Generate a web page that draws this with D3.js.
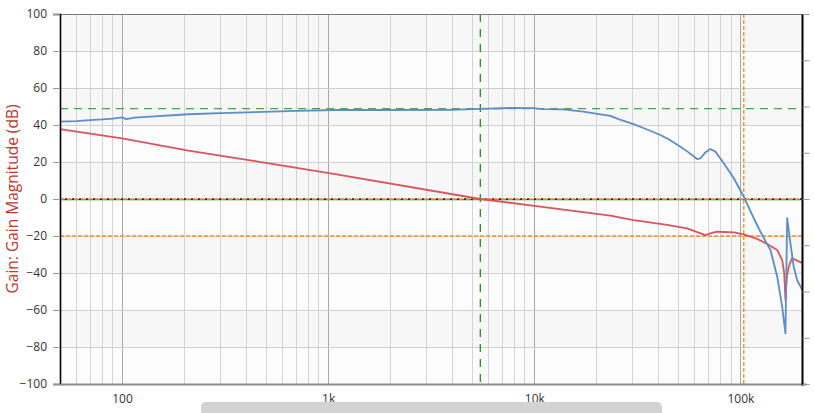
<!DOCTYPE html>
<html><head><meta charset="utf-8">
<script src="https://cdn.jsdelivr.net/npm/d3@7"></script>
<style>
html,body{margin:0;padding:0;background:#fff;}
svg{display:block;font-family:"Open Sans","Segoe UI",Arial,sans-serif;}
</style></head><body>
<svg id="chart" width="814" height="413"></svg>
<script>
// ---- data ----
const blueFreq = [50,60,70,80,90,100,105,115,150,210,300,442,700,1081,2000,4000,5000,7640,9880,11000,13800,17300,20900,23400,26000,30300,35000,40900,45000,51200,56000,61600,64000,67600,71500,75600,83000,92900,103800,116000,125000,134900,139900,150800,159400,165300,168500,174800,181300,188300,197600,200000];
const blueGain = [41.8,42.1,42.6,43.0,43.5,44.1,43.2,44.0,44.8,45.8,46.4,47.0,47.6,48.1,48.1,48.2,48.6,49.2,49.1,48.6,48.5,47.2,45.8,44.9,42.9,40.5,37.7,34.6,32.2,28.3,25.2,21.6,22.0,25.2,27.0,25.6,19.3,11.2,1.2,-10.4,-17.7,-24.5,-27.6,-42,-58.2,-72.6,-10.4,-24,-36.6,-43.8,-48.3,-49];
const redFreq = [50,100,210,442,1081,5470,10000,23400,30300,44100,55100,67600,72000,77100,92900,103800,120600,134900,150800,159400,163000,165300,168000,171500,178100,197600,200000];
const redGain = [37.8,32.8,26.1,20.5,13.5,0,-3.7,-9.0,-11.4,-14,-15.9,-19.5,-18.5,-17.7,-18,-19.1,-21.6,-24.3,-27.6,-33,-40,-54.6,-42,-36.6,-32,-34.4,-34.6];
const yTicks = [-100,-80,-60,-40,-20,0,20,40,60,80,100];
const xTickValues = [100,1000,10000,100000];
const xTickLabels = ["100","1k","10k","100k"];
const rightTicks = [-180,-135,-90,-45,0,45,90,135,180];
const greenGain = 48.8, greenFreq = 5470, orangeGain = -20, orangeFreq = 103800, zeroGain = 0;
const yTitle = "Gain: Gain Magnitude (dB)";

// ---- layout ----
const L = 60, R = 802.5, T = 14, B = 384;
const svg = d3.select("#chart");
const x = d3.scaleLog().domain([50, 200000]).range([L, R]);
const y = d3.scaleLinear().domain([-100, 100]).range([B, T]);
const yR = d3.scaleLinear().domain([-180, 180]).range([B, T]);

// background bands
const bands = d3.range(-100, 100, 20);
svg.append("g").selectAll("rect").data(bands).join("rect")
  .attr("x", L).attr("width", R - L)
  .attr("y", d => y(d + 20)).attr("height", d => y(d) - y(d + 20))
  .attr("fill", (d, i) => (i % 2 === 0) ? "#fcfcfc" : "#f7f7f7");

// vertical grid
const minor = [];
for (let e = 1; e <= 5; e++) for (let m = 2; m <= 9; m++) { const v = m * Math.pow(10, e); if (v > 50 && v < 200000) minor.push(v); }
svg.append("g").selectAll("line").data(minor).join("line")
  .attr("x1", d => x(d)).attr("x2", d => x(d)).attr("y1", T).attr("y2", B)
  .attr("stroke", "#d4d4d4").attr("stroke-width", 1).attr("shape-rendering", "crispEdges");
svg.append("g").selectAll("line").data(xTickValues).join("line")
  .attr("x1", d => x(d)).attr("x2", d => x(d)).attr("y1", T).attr("y2", B)
  .attr("stroke", "#a9a9a9").attr("stroke-width", 1).attr("shape-rendering", "crispEdges");
// horizontal grid
svg.append("g").selectAll("line").data(yTicks.filter(d => d > -100 && d < 100)).join("line")
  .attr("x1", L).attr("x2", R).attr("y1", d => y(d)).attr("y2", d => y(d))
  .attr("stroke", "#d0d0d0").attr("stroke-width", 1).attr("shape-rendering", "crispEdges");

// reference lines
const ref = svg.append("g");
ref.append("line").attr("x1", L).attr("x2", R).attr("y1", y(greenGain)).attr("y2", y(greenGain))
  .attr("stroke", "#4ea24e").attr("stroke-width", 1.3).attr("stroke-dasharray", "8,6");
ref.append("line").attr("x1", L).attr("x2", R).attr("y1", y(zeroGain) + 0.6).attr("y2", y(zeroGain) + 0.6)
  .attr("stroke", "#2a9a2a").attr("stroke-width", 1.4);
ref.append("line").attr("x1", L).attr("x2", R).attr("y1", y(zeroGain)).attr("y2", y(zeroGain))
  .attr("stroke", "#222").attr("stroke-width", 1.3).attr("stroke-dasharray", "2,5").attr("stroke-dashoffset", 2);
ref.append("line").attr("x1", L).attr("x2", R).attr("y1", y(zeroGain)).attr("y2", y(zeroGain))
  .attr("stroke", "#ff8c1a").attr("stroke-width", 1.6).attr("stroke-dasharray", "4,3");
ref.append("line").attr("x1", L).attr("x2", R).attr("y1", y(orangeGain)).attr("y2", y(orangeGain))
  .attr("stroke", "#ff8c1a").attr("stroke-width", 1.3).attr("stroke-dasharray", "4,2");
ref.append("line").attr("x1", x(orangeFreq)).attr("x2", x(orangeFreq)).attr("y1", T).attr("y2", B)
  .attr("stroke", "#f08a22").attr("stroke-width", 1.3).attr("stroke-dasharray", "4,2");
ref.append("line").attr("x1", x(greenFreq)).attr("x2", x(greenFreq)).attr("y1", T).attr("y2", B)
  .attr("stroke", "#1f8f1f").attr("stroke-width", 1.3).attr("stroke-dasharray", "8,7");

// curves
const line = d3.line().x(d => x(d[0])).y(d => y(d[1]));
svg.append("path").datum(redFreq.map((f, i) => [f, redGain[i]]))
  .attr("d", line).attr("fill", "none").attr("stroke", "#d9545f").attr("stroke-width", 1.8).attr("stroke-linejoin", "round");
svg.append("path").datum(blueFreq.map((f, i) => [f, blueGain[i]]))
  .attr("d", line).attr("fill", "none").attr("stroke", "#5b8ec8").attr("stroke-width", 1.8).attr("stroke-linejoin", "round");

// frame
svg.append("line").attr("x1", L).attr("x2", R).attr("y1", T + 0.5).attr("y2", T + 0.5).attr("stroke", "#7a7a7a").attr("stroke-width", 1);

// left axis
const yAxis = d3.axisLeft(y).tickValues(yTicks).tickSize(7).tickPadding(6);
const gy = svg.append("g").attr("transform", `translate(${L},0)`).call(yAxis);
gy.select(".domain").attr("stroke", "#000").attr("stroke-width", 1.6);
gy.selectAll(".tick line").attr("stroke", "#999");
gy.selectAll(".tick text").attr("fill", "#333").attr("font-size", 12).attr("font-family", "'Open Sans','Segoe UI',Arial,sans-serif");

// bottom axis
const xAxis = d3.axisBottom(x).tickValues(xTickValues).tickFormat((d, i) => xTickLabels[i]).tickSize(0).tickPadding(10);
const gx = svg.append("g").attr("transform", `translate(0,${B + 0.5})`).call(xAxis);
gx.select(".domain").attr("stroke", "#8a8a8a").attr("stroke-width", 2).attr("d", `M${L},0H${R + 4}`);
gx.selectAll(".tick text").attr("fill", "#333").attr("font-size", 12).attr("font-family", "'Open Sans','Segoe UI',Arial,sans-serif");

// right axis
const yAxisR = d3.axisRight(yR).tickValues(rightTicks).tickSize(7).tickFormat("");
const gr = svg.append("g").attr("transform", `translate(${R},0)`).call(yAxisR);
gr.select(".domain").attr("stroke", "#000").attr("stroke-width", 2).attr("d", `M0,${T}V${B + 1.5}`);
gr.selectAll(".tick line").attr("stroke", "#999");

// y title
svg.append("text").attr("transform", `translate(18,${(T + B) / 2}) rotate(-90)`)
  .attr("text-anchor", "middle").attr("fill", "#c0392b").attr("font-size", 15.5)
  .text(yTitle);

// scrollbar
svg.append("rect").attr("x", 201).attr("y", 402).attr("width", 461).attr("height", 20).attr("rx", 5)
  .attr("fill", "#d3d3d3");
</script>
</body></html>
